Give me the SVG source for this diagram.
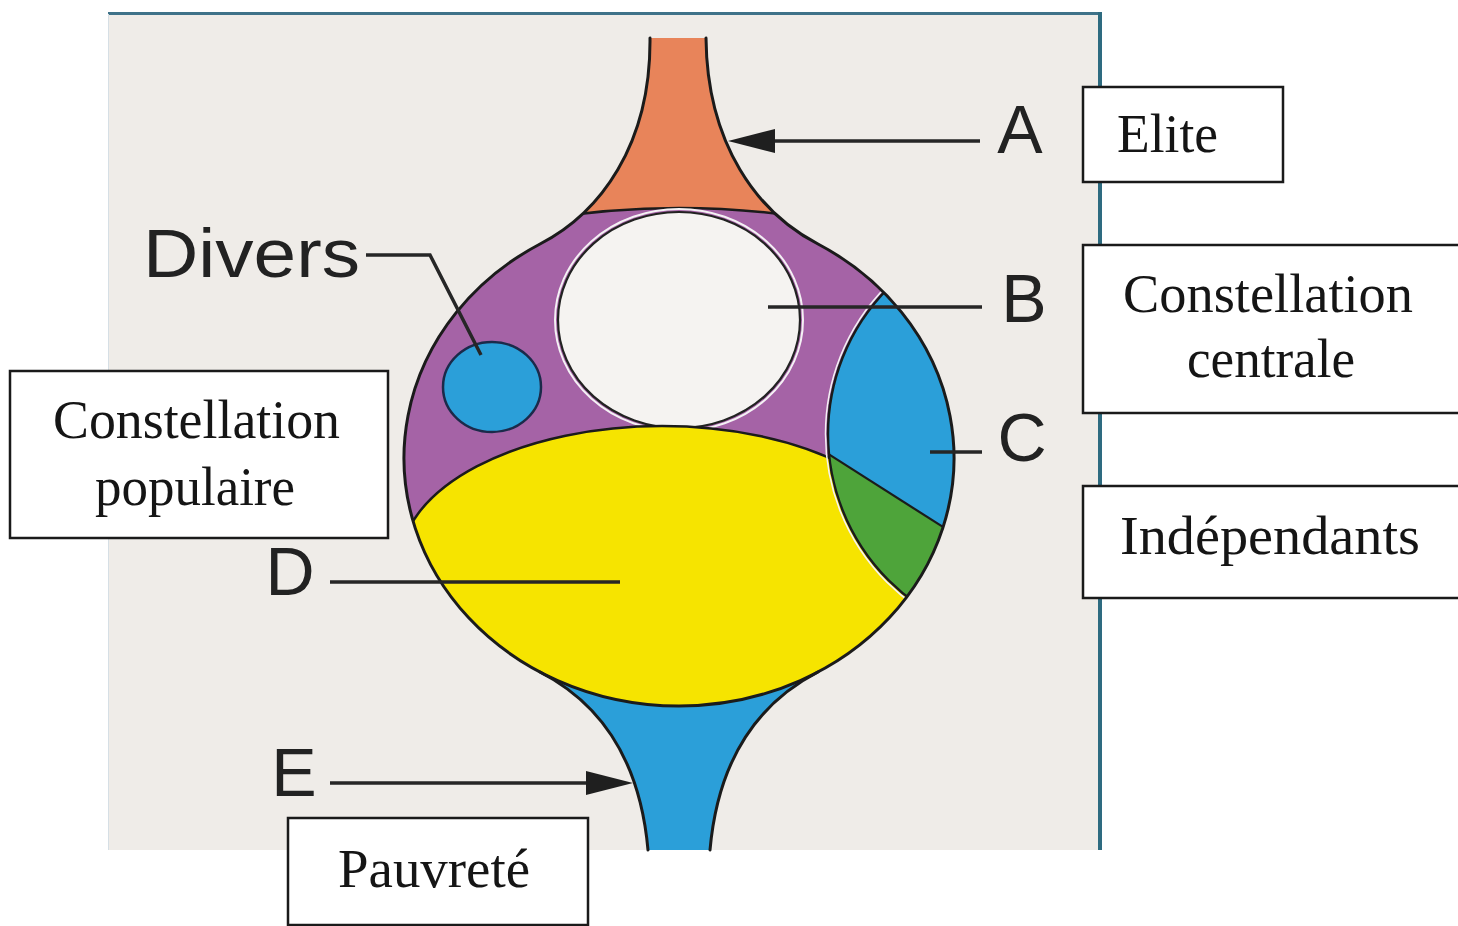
<svg xmlns="http://www.w3.org/2000/svg" width="1458" height="926" viewBox="0 0 1458 926">
<defs>
<style>
.ol{fill:none;stroke:#1b1b1b;stroke-width:3;stroke-linejoin:round;stroke-linecap:round}
.box{fill:#fff;stroke:#1a1a1a;stroke-width:2.5}
.lbl{font-family:"Liberation Serif","Times New Roman",serif;font-size:55px;fill:#151515;text-anchor:middle}
.let{font-family:"Liberation Sans",Arial,sans-serif;font-size:68px;fill:#222}
.lead{fill:none;stroke:#262626;stroke-width:3.5}
.blue{fill:#2b9fd9}
.purple{fill:#a563a6}
.halo{fill:none;stroke:#f4f1f4;stroke-width:2}
</style>
<marker id="arr" markerUnits="userSpaceOnUse" markerWidth="50" markerHeight="26" refX="35" refY="12" orient="auto">
<path d="M0,0 L47,12 L0,24 Z" fill="#1f1f1f"/>
</marker>
<clipPath id="bulbClip"><ellipse cx="679" cy="458" rx="275" ry="248"/></clipPath>
<clipPath id="lensClip"><circle cx="1035" cy="434" r="207"/></clipPath>
<clipPath id="neckClip"><path d="M650,38 C651,145 600,213 540,244 L540,300 L818,300 L818,244 C758,213 707,145 706,38 Z"/></clipPath>
</defs>

<g id="panel">
<rect x="0" y="0" width="1458" height="926" fill="#ffffff"/>
<rect x="108" y="12" width="994" height="838" fill="#efece8"/>
<line x1="108" y1="13.5" x2="1102" y2="13.5" stroke="#3f7289" stroke-width="3"/>
<line x1="1100" y1="12" x2="1100" y2="850" stroke="#2e6b80" stroke-width="4"/>
<line x1="108.5" y1="14" x2="108.5" y2="850" stroke="#d6dfe5" stroke-width="1"/>
</g>

<g id="figure">
<path id="elite-neck" d="M650,38 C651,145 600,213 540,244 L818,244 C758,213 707,145 706,38 Z" fill="#e8845a"/>
<path id="poverty-neck" class="blue" d="M540,672 C600,703 640,760 648,850 L710,850 C718,760 758,703 818,672 Z"/>
<ellipse id="bulb" class="purple" cx="679" cy="458" rx="275" ry="248"/>
<g clip-path="url(#neckClip)">
<path class="purple" d="M500,227 Q679,189 858,227 L858,300 L500,300 Z"/>
<path d="M500,227 Q679,189 858,227" fill="none" stroke="#1b1b1b" stroke-width="2.5"/>
</g>
<ellipse class="halo" cx="679" cy="320" rx="124" ry="111"/>
<ellipse id="central" cx="679" cy="320" rx="121" ry="108" fill="#f5f3f1" stroke="#222" stroke-width="2.2"/>
<ellipse class="halo" cx="492" cy="387" rx="46" ry="42"/>
<ellipse id="divers" class="blue" cx="492" cy="387" rx="49" ry="45" stroke="#1b2a4a" stroke-width="2.5"/>
<g clip-path="url(#bulbClip)">
<path id="popular" d="M400,564 A262,138 0 0 1 924,564 L970,564 L970,730 L380,730 L380,564 Z" fill="#f6e400"/>
<path d="M400,564 A262,138 0 0 1 924,564" fill="none" stroke="#1b1b1b" stroke-width="2.5"/>
<circle id="independants" class="blue" cx="1035" cy="434" r="207"/>
<path clip-path="url(#lensClip)" d="M820,448.7 L960,537.8 L960,720 L820,720 Z" fill="#4ea43a"/>
<line clip-path="url(#lensClip)" x1="820" y1="448.7" x2="960" y2="537.8" stroke="#1b1b1b" stroke-width="2.2"/>
<circle cx="1035" cy="434" r="209.5" fill="none" stroke="#f4f1f4" stroke-width="1.5"/>
<circle cx="1035" cy="434" r="207" fill="none" stroke="#1b1b1b" stroke-width="2.5"/>
</g>
<path class="ol" d="M650,38 C651,145 600,213 540,244 A275,248 0 1 0 818,244 C758,213 707,145 706,38"/>
<path class="ol" d="M540,672 C600,703 640,760 648,850"/>
<path class="ol" d="M818,672 C758,703 718,760 710,850"/>
</g>

<g id="connectors">
<line class="lead" x1="980" y1="141" x2="740" y2="141" marker-end="url(#arr)"/>
<line class="lead" x1="768" y1="307" x2="982" y2="307"/>
<line class="lead" x1="930" y1="452" x2="982" y2="452"/>
<line class="lead" x1="330" y1="582" x2="620" y2="582"/>
<line class="lead" x1="330" y1="783" x2="621" y2="783" marker-end="url(#arr)"/>
<polyline class="lead" points="366,255 430,255 481,355"/>
</g>

<g id="letter-A"><text class="let" x="1020" y="153" text-anchor="middle">A</text></g>
<g id="letter-B"><text class="let" x="1024" y="322" text-anchor="middle">B</text></g>
<g id="letter-C"><text class="let" x="1022" y="461" text-anchor="middle">C</text></g>
<g id="letter-D"><text class="let" x="290" y="595" text-anchor="middle">D</text></g>
<g id="letter-E"><text class="let" x="294" y="796" text-anchor="middle">E</text></g>
<g id="label-divers"><text class="let" x="143" y="277" font-size="70" textLength="217" lengthAdjust="spacingAndGlyphs">Divers</text></g>

<g id="box-elite">
<rect class="box" x="1083" y="87" width="200" height="95"/>
<text class="lbl" x="1167.5" y="152" textLength="101" lengthAdjust="spacingAndGlyphs">Elite</text>
</g>
<g id="box-centrale">
<rect class="box" x="1083" y="245" width="400" height="168"/>
<text class="lbl" x="1268" y="312" textLength="290" lengthAdjust="spacingAndGlyphs">Constellation</text>
<text class="lbl" x="1271" y="377" textLength="168" lengthAdjust="spacingAndGlyphs">centrale</text>
</g>
<g id="box-independants">
<rect class="box" x="1083" y="486" width="400" height="112"/>
<text class="lbl" x="1270" y="554" textLength="300" lengthAdjust="spacingAndGlyphs">Indépendants</text>
</g>
<g id="box-populaire">
<rect class="box" x="10" y="371" width="378" height="167"/>
<text class="lbl" x="196.5" y="438" textLength="287" lengthAdjust="spacingAndGlyphs">Constellation</text>
<text class="lbl" x="195" y="505" textLength="200" lengthAdjust="spacingAndGlyphs">populaire</text>
</g>
<g id="box-pauvrete">
<rect class="box" x="288" y="818" width="300" height="107"/>
<text class="lbl" x="434" y="887" textLength="192" lengthAdjust="spacingAndGlyphs">Pauvreté</text>
</g>
</svg>
